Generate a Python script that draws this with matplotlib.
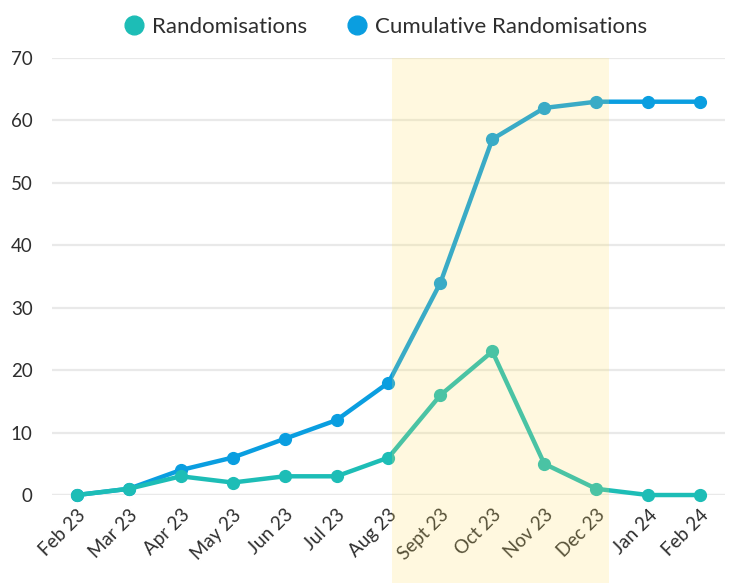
import matplotlib
matplotlib.use("Agg")
import matplotlib.pyplot as plt
from matplotlib.lines import Line2D
from matplotlib.patches import Rectangle
import matplotlib.transforms as mtransforms

months = ["Feb 23", "Mar 23", "Apr 23", "May 23", "Jun 23", "Jul 23", "Aug 23",
          "Sept 23", "Oct 23", "Nov 23", "Dec 23", "Jan 24", "Feb 24"]
randomisations = [0, 1, 3, 2, 3, 3, 6, 16, 23, 5, 1, 0, 0]
cumulative = [0, 1, 4, 6, 9, 12, 18, 34, 57, 62, 63, 63, 63]
y_ticks = [0, 10, 20, 30, 40, 50, 60, 70]
highlight_start = "Aug 23"
highlight_end = "Dec 23"

plt.rcParams['font.family'] = ['Lato', 'DejaVu Sans']

teal = "#1DBDB6"
blue = "#0A9EE0"
text_c = "#2E2E2E"

fig = plt.figure(figsize=(7.31, 5.83), dpi=100)
ax = fig.add_axes([0.0711, 0.1509, 0.9207, 0.7496])

x = list(range(len(months)))
ax.plot(x, cumulative, color=blue, lw=3.2, marker='o', ms=8.5, clip_on=False, zorder=3)
ax.plot(x, randomisations, color=teal, lw=3.2, marker='o', ms=8.5, clip_on=False, zorder=4)

ax.set_xlim(-0.48, len(months) - 1 + 0.48)
ax.set_ylim(0, 70)
ax.set_yticks(y_ticks)
ax.set_xticks(x)
ax.set_xticklabels(months, rotation=45, ha='right', rotation_mode='anchor')
ax.tick_params(axis='both', length=0, labelsize=13.5, colors=text_c)
ax.tick_params(axis='x', pad=8)
ax.tick_params(axis='y', pad=14)
for s in ax.spines.values():
    s.set_visible(False)
ax.grid(axis='y', color='#E9E9E9', lw=1.6, zorder=0)
ax.axhline(0, color='#D0D0D0', lw=2.2, zorder=1)

# highlight band (drawn over lines, semi-transparent)
i0 = months.index(highlight_start)
i1 = months.index(highlight_end)
trans = mtransforms.blended_transform_factory(ax.transData, fig.transFigure)
y_top = ax.transAxes.transform((0, 1))[1] / fig.bbox.height
rect = Rectangle((i0 + 0.07, 0), (i1 + 0.25) - (i0 + 0.07), y_top, transform=trans,
                 facecolor='#FFE060', alpha=0.2, edgecolor='none', zorder=5, clip_on=False)
fig.patches.append(rect)

handles = [Line2D([], [], color=teal, marker='o', ls='none', ms=13.5),
           Line2D([], [], color=blue, marker='o', ls='none', ms=13.5)]
fig.legend(handles, ["Randomisations", "Cumulative Randomisations"], loc='upper center',
           bbox_to_anchor=(0.527, 1.005), ncol=2, frameon=False, fontsize=16,
           handlelength=1.0, handletextpad=0.3, columnspacing=1.75, labelcolor=text_c)

fig.savefig("out.png", dpi=100)
